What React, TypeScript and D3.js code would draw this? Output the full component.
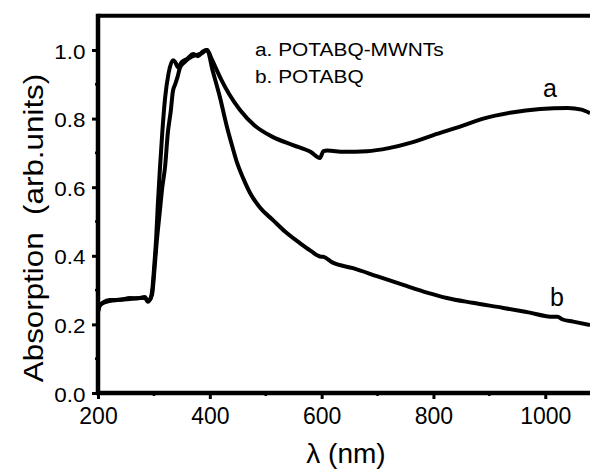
import React, { useRef, useEffect } from "react";
import * as d3 from "d3";

// curve a: POTABQ-MWNTs
const waveA = [200, 203, 210, 221, 240, 257, 270, 284, 289, 294, 297, 301, 304, 307, 311, 315, 320, 326, 334, 338, 343, 350, 360, 370, 379, 387, 395, 403, 410, 420, 435, 454, 480, 513, 550, 580, 597, 603, 610, 640, 681, 720, 760, 800, 850, 889, 940, 991, 1040, 1065, 1080];
const absA = [0.235, 0.255, 0.265, 0.271, 0.272, 0.277, 0.276, 0.28, 0.268, 0.275, 0.3, 0.38, 0.45, 0.55, 0.66, 0.76, 0.86, 0.93, 0.97, 0.965, 0.95, 0.965, 0.975, 0.988, 0.982, 0.995, 1.0, 0.975, 0.95, 0.915, 0.87, 0.825, 0.78, 0.746, 0.722, 0.703, 0.685, 0.705, 0.707, 0.703, 0.705, 0.714, 0.73, 0.752, 0.778, 0.8, 0.818, 0.828, 0.831, 0.826, 0.816];

// curve b: POTABQ
const waveB = [200, 205, 221, 257, 284, 289, 295, 297, 301, 305, 310, 315, 320, 325, 330, 334, 338, 342, 347, 355, 365, 375, 385, 395, 405, 418, 430, 440, 449, 460, 472, 490, 513, 535, 561, 580, 597, 603, 620, 656, 700, 746, 790, 824, 870, 925, 970, 1014, 1022, 1030, 1050, 1080];
const absB = [0.24, 0.258, 0.268, 0.274, 0.278, 0.266, 0.28, 0.29, 0.36, 0.44, 0.52, 0.6, 0.66, 0.76, 0.82, 0.88, 0.9, 0.92, 0.95, 0.965, 0.978, 0.985, 0.99, 1.0, 0.94, 0.863, 0.78, 0.72, 0.67, 0.625, 0.583, 0.54, 0.504, 0.47, 0.437, 0.415, 0.398, 0.397, 0.38, 0.364, 0.34, 0.315, 0.292, 0.277, 0.263, 0.248, 0.235, 0.222, 0.222, 0.215, 0.208, 0.198];

const xTicks = [200, 400, 600, 800, 1000];
const xMinor = [300, 500, 700, 900];
const yTicks = [0, 0.2, 0.4, 0.6, 0.8, 1.0];
const yMinor = [0.1, 0.3, 0.5, 0.7, 0.9];
const legendLines = ["a. POTABQ-MWNTs", "b. POTABQ"];

const FONT = "'Liberation Sans', Arial, Helvetica, sans-serif";

const App = () => {
  const ref = useRef<HTMLDivElement>(null);

  useEffect(() => {
    const width = 590;
    const height = 473;
    const left = 98;
    const bottom = 393;

    const x = d3.scaleLinear().domain([200, 1080]).range([left, width]);
    const y = d3.scaleLinear().domain([0, 1.1]).range([bottom, bottom - 1.1 * 343]);

    const svg = d3.create("svg")
      .attr("width", width)
      .attr("height", height)
      .attr("viewBox", [0, 0, width, height])
      .style("position", "absolute")
      .style("left", "0px")
      .style("top", "0px")
      .style("background", "#fff")
      .style("font-family", FONT);

    const line = d3.line<[number, number]>()
      .x(d => x(d[0]))
      .y(d => y(d[1]))
      .curve(d3.curveMonotoneX);

    const series = [
      waveA.map((w, i) => [w, absA[i]] as [number, number]),
      waveB.map((w, i) => [w, absB[i]] as [number, number]),
    ];

    svg.append("g")
      .selectAll("path")
      .data(series)
      .join("path")
      .attr("d", d => line(d))
      .attr("fill", "none")
      .attr("stroke", "#000")
      .attr("stroke-width", 4)
      .attr("stroke-linejoin", "round");

    // top frame
    svg.append("line")
      .attr("x1", left).attr("x2", width)
      .attr("y1", y(1.1)).attr("y2", y(1.1))
      .attr("stroke", "#000").attr("stroke-width", 4);

    // x axis
    const gx = svg.append("g")
      .attr("transform", `translate(0,${bottom})`)
      .call(d3.axisBottom(x).tickValues(xTicks).tickSize(6).tickPadding(9).tickFormat(d3.format("d")))
      .call(g => g.select(".domain").remove());
    gx.selectAll(".tick line").attr("stroke-width", 3);
    gx.selectAll(".tick text")
      .attr("font-size", 23)
      .attr("font-family", FONT)
      .attr("fill", "#000");
    svg.append("g")
      .selectAll("line")
      .data(xMinor)
      .join("line")
      .attr("x1", d => x(d)).attr("x2", d => x(d))
      .attr("y1", bottom).attr("y2", bottom + 3)
      .attr("stroke", "#000").attr("stroke-width", 2.5);

    // y axis
    const gy = svg.append("g")
      .attr("transform", `translate(${left},0)`)
      .call(d3.axisLeft(y).tickValues(yTicks).tickSize(6).tickPadding(5).tickFormat(d3.format(".1f")))
      .call(g => g.select(".domain").remove());
    gy.selectAll(".tick line").attr("stroke-width", 3);
    gy.selectAll(".tick text")
      .attr("font-size", 19.5)
      .attr("font-family", FONT)
      .attr("fill", "#000")
      .attr("dy", "0.42em")
      .attr("transform", "scale(1.15,1)");
    svg.append("g")
      .selectAll("line")
      .data(yMinor)
      .join("line")
      .attr("x1", left - 3).attr("x2", left)
      .attr("y1", d => y(d)).attr("y2", d => y(d))
      .attr("stroke", "#000").attr("stroke-width", 2.5);

    // axis lines
    svg.append("line")
      .attr("x1", left).attr("x2", left)
      .attr("y1", y(1.1) - 2).attr("y2", bottom + 2)
      .attr("stroke", "#000").attr("stroke-width", 4.5);
    svg.append("line")
      .attr("x1", left - 2).attr("x2", width)
      .attr("y1", bottom).attr("y2", bottom)
      .attr("stroke", "#000").attr("stroke-width", 4.5);

    // axis titles
    svg.append("text")
      .attr("transform", `translate(43,228) rotate(-90) scale(1.12,1)`)
      .attr("text-anchor", "middle")
      .attr("font-size", 28)
      .attr("fill", "#000")
      .attr("xml:space", "preserve")
      .style("white-space", "pre")
      .text("Absorption  (arb.units)");

    svg.append("text")
      .attr("x", 346)
      .attr("y", 463)
      .attr("text-anchor", "middle")
      .attr("font-size", 28)
      .attr("fill", "#000")
      .text("λ (nm)");

    // legend
    legendLines.forEach((t, i) => {
      svg.append("text")
        .attr("transform", `translate(255,${56 + i * 27}) scale(1.16,1)`)
        .attr("font-size", 18)
        .attr("fill", "#000")
        .text(t);
    });

    // curve labels
    svg.append("text")
      .attr("x", 550).attr("y", 97)
      .attr("text-anchor", "middle")
      .attr("font-size", 25)
      .attr("fill", "#000")
      .text("a");
    svg.append("text")
      .attr("x", 557).attr("y", 306)
      .attr("text-anchor", "middle")
      .attr("font-size", 25)
      .attr("fill", "#000")
      .text("b");

    if (ref.current) {
      ref.current.innerHTML = "";
      ref.current.appendChild(svg.node() as SVGSVGElement);
    }
  }, []);

  return <div ref={ref} />;
};

export default App;
